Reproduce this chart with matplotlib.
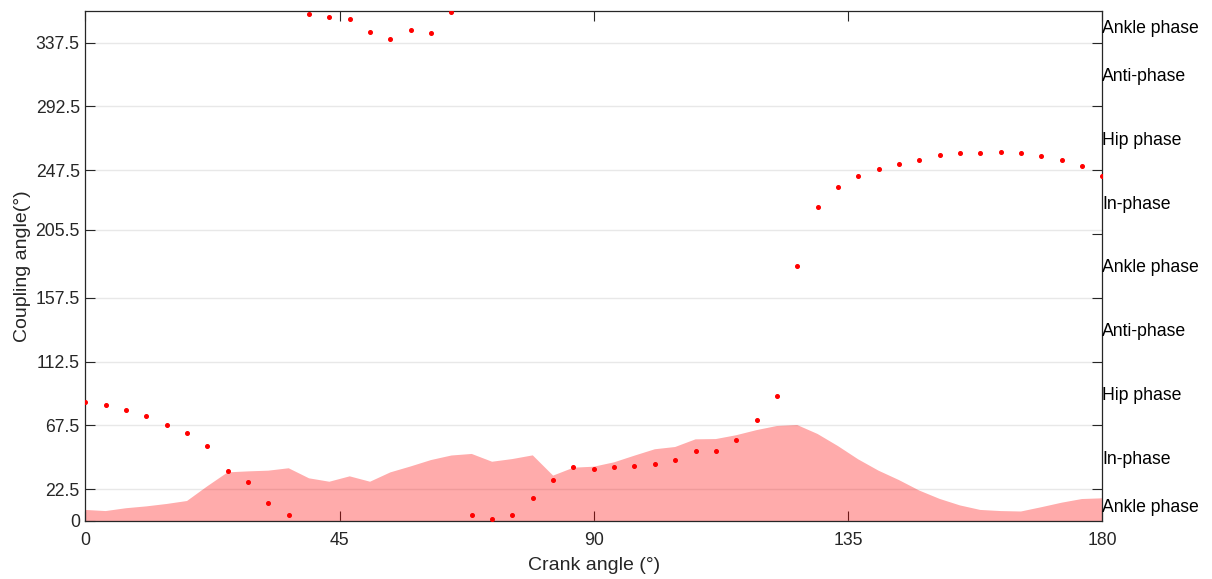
import numpy as np
import matplotlib
matplotlib.use("Agg")
import matplotlib.pyplot as plt
from matplotlib.ticker import FixedLocator

plt.rcParams['font.family'] = ['Liberation Sans', 'DejaVu Sans']

# ---- data ----
crank_angle = np.linspace(0, 180, 51)

coupling_angle = [83.9, 82.1, 78.1, 74.1, 68.0, 62.3, 53.1, 35.3, 27.3, 12.5,
                  4.5, 357.9, 355.8, 354.4, 345.0, 339.8, 346.2, 344.0, 359.1, 4.0,
                  1.6, 4.5, 16.2, 29.2, 37.9, 36.9, 38.1, 39.0, 40.2, 43.3,
                  49.2, 49.4, 56.9, 71.0, 88.2, 179.7, 221.5, 235.6, 243.6, 248.6,
                  252.1, 254.9, 258.0, 259.9, 259.9, 260.6, 259.4, 257.5, 254.5, 250.4,
                  243.6]

variability = [7.8, 7.0, 9.0, 10.3, 12.0, 14.1, 24.5, 34.3, 35.0, 35.5,
               37.2, 30.1, 27.7, 31.5, 27.7, 34.3, 38.5, 43.0, 46.2, 47.3,
               41.8, 43.7, 46.3, 32.0, 37.6, 38.3, 41.4, 46.1, 50.6, 52.2,
               57.6, 57.8, 60.5, 64.1, 67.0, 67.7, 61.4, 52.9, 43.5, 35.5,
               28.9, 21.5, 15.6, 11.0, 7.8, 7.0, 6.7, 9.7, 12.9, 15.5,
               16.0]

y_ticks = [0, 22.5, 67.5, 112.5, 157.5, 205.5, 247.5, 292.5, 337.5]
y_ticklabels = ['0', '22.5', '67.5', '112.5', '157.5', '205.5', '247.5', '292.5', '337.5']
x_ticks = [0, 45, 90, 135, 180]

right_ticks = [22.5, 67.5, 112.5, 157.5, 202.5, 247.5, 292.5, 337.5]
phase_positions = [11.25, 45, 90, 135, 180, 225, 270, 315, 348.75]
phase_labels = ['Ankle phase', 'In-phase', 'Hip phase', 'Anti-phase',
                'Ankle phase', 'In-phase', 'Hip phase', 'Anti-phase', 'Ankle phase']

# ---- figure ----
fig = plt.figure(figsize=(12.12, 5.79), dpi=100)
ax = fig.add_axes([0.0704, 0.1002, 0.8391, 0.8813])

spine_col = '#262626'
ax.set_xlim(0, 180)
ax.set_ylim(0, 360)

ax.set_axisbelow(True)
ax.yaxis.grid(True, color='#e8e8e8', linewidth=1.0)

ax.fill_between(crank_angle, 0, variability, facecolor='red', alpha=0.33,
                linewidth=0, zorder=2)
ax.plot(crank_angle, coupling_angle, linestyle='none', marker='o',
        markersize=2.6, color='red', zorder=3)

ax.set_xticks(x_ticks)
ax.set_xticklabels([str(v) for v in x_ticks])
ax.set_yticks(y_ticks)
ax.set_yticklabels(y_ticklabels)
ax.tick_params(axis='both', direction='in', length=7, width=0.8,
               colors=spine_col, labelsize=12.7, labelcolor='#262626')
ax.tick_params(axis='x', top=True, pad=8)
ax.tick_params(axis='y', pad=4)

for s in ax.spines.values():
    s.set_color(spine_col)
    s.set_linewidth(0.9)

ax.set_xlabel('Crank angle (°)', fontsize=14, color='#262626', labelpad=5.5)
ax.set_ylabel('Coupling angle(°)', fontsize=14, color='#262626', labelpad=3)

# right axis with phase labels
ax2 = ax.twinx()
ax2.set_ylim(0, 360)
ax2.yaxis.set_major_locator(FixedLocator(right_ticks))
ax2.yaxis.set_major_formatter(plt.NullFormatter())
ax2.set_yticks(phase_positions, minor=True)
ax2.set_yticklabels(phase_labels, minor=True)
ax2.tick_params(axis='y', which='major', direction='in', length=7, width=0.8,
                colors=spine_col)
ax2.tick_params(axis='y', which='minor', length=0, pad=0, labelsize=12.7,
                labelcolor='black')
for s in ax2.spines.values():
    s.set_visible(False)

fig.savefig('out.png', dpi=100)
